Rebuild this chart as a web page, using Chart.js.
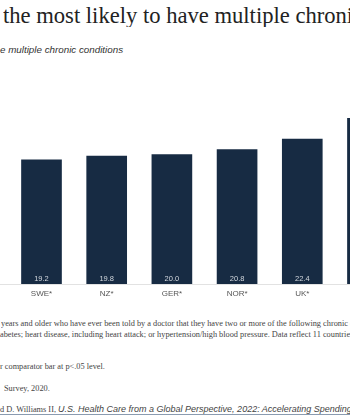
<!DOCTYPE html>
<html><head><meta charset="utf-8">
<script src="https://cdn.jsdelivr.net/npm/chart.js@4"></script>
<style>
html,body{margin:0;padding:0;background:#fff;}
body{width:350px;height:420px;overflow:hidden;position:relative;}
.t{position:absolute;white-space:nowrap;overflow:hidden;}
#title{left:3px;width:347px;top:5px;font:22.6px/22px "Liberation Serif",serif;color:#222;}
#sub{left:0;width:350px;top:43.6px;font:italic 9.8px/12px "Liberation Sans",sans-serif;color:#333;}
.note{left:0;width:350px;font:8.3px/10.5px "Liberation Serif",serif;color:#444;}
.src{font:italic 9px "Liberation Sans",sans-serif;}
#wrap{position:absolute;left:0;top:90px;width:350px;height:210px;}
#rule{position:absolute;left:0;top:414px;width:350px;height:1px;background:#8a9bb0;}
</style></head><body>
<div id="title" class="t">the most likely to have multiple chronic conditions</div>
<div id="sub" class="t">e multiple chronic conditions</div>
<div id="wrap"><canvas id="c" width="350" height="210"></canvas></div>
<div class="t note" style="top:319px;left:1px;width:349px;">years and older who have ever been told by a doctor that they have two or more of the following chronic conditions:</div>
<div class="t note" style="top:329.5px;">abetes; heart disease, including heart attack; or hypertension/high blood pressure. Data reflect 11 countries.</div>
<div class="t note" style="top:362px;">r comparator bar at p&lt;.05 level.</div>
<div class="t note" style="top:384px;left:4px;width:346px;">Survey, 2020.</div>
<div class="t note" style="top:404px;">d D. Williams II, <span class="src">U.S. Health Care from a Global Perspective, 2022: Accelerating Spending, Worsening Outcomes</span></div>
<div id="rule"></div>
<script>
const categories = ['SWE*', 'NZ*', 'GER*', 'NOR*', 'UK*', 'US'];
const values = [19.2, 19.8, 20.0, 20.8, 22.4, 25.6];
const valueLabels = ['19.2', '19.8', '20.0', '20.8', '22.4', '25.6'];

const valueLabelPlugin = {
  id: 'valueLabels',
  afterDatasetsDraw(chart) {
    const ctx = chart.ctx;
    const meta = chart.getDatasetMeta(0);
    ctx.save();
    ctx.font = '7.5px "Liberation Sans", sans-serif';
    ctx.fillStyle = '#d3d8de';
    ctx.textAlign = 'center';
    ctx.textBaseline = 'middle';
    meta.data.forEach((el, i) => {
      ctx.fillText(valueLabels[i], el.x, el.base - 5);
    });
    ctx.restore();
  }
};

new Chart(document.getElementById('c'), {
  type: 'bar',
  data: {
    datasets: [{
      data: values.map((v, i) => ({ x: i, y: v })),
      backgroundColor: '#172b43',
      barThickness: 40
    }]
  },
  options: {
    responsive: false,
    animation: false,
    devicePixelRatio: 1,
    layout: { padding: 0 },
    plugins: { legend: { display: false }, tooltip: { enabled: false } },
    scales: {
      x: {
        type: 'linear',
        min: -0.6365,
        max: 4.732,
        offset: false,
        grid: { display: false, drawTicks: false },
        border: { display: true, color: '#e2e2e2', width: 1 },
        ticks: {
          stepSize: 1,
          includeBounds: false,
          autoSkip: false,
          maxRotation: 0,
          padding: 4.5,
          color: '#555',
          font: { family: 'Liberation Sans', size: 8 },
          callback: (v) => Number.isInteger(v) ? (categories[v] || '') : ''
        },
        afterFit(s) { s.height = 16; }
      },
      y: { display: false, min: 0, max: 30 }
    }
  },
  plugins: [valueLabelPlugin]
});
</script>
</body></html>
